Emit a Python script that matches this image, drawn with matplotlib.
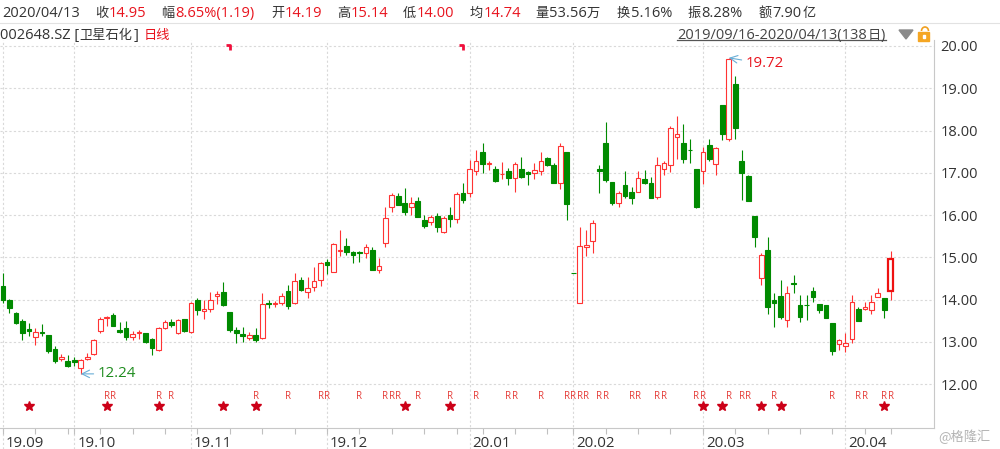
import numpy as np
import pandas as pd
import matplotlib
matplotlib.use('Agg')
import matplotlib.pyplot as plt
from matplotlib.path import Path
from matplotlib.transforms import blended_transform_factory, ScaledTranslation
from matplotlib.patches import Rectangle, Polygon, Arc

# ---------------- data ----------------
opens = [14.32, 14.00, 13.69, 13.49, 13.30, 13.12, 13.24, 13.16, 12.83, 12.60,
         12.54, 12.58, 12.39, 12.60, 12.71, 13.26, 13.56, 13.63, 13.29, 13.32,
         13.11, 13.20, 13.20, 13.06, 12.80, 13.32, 13.46, 13.21, 13.53, 13.24,
         13.98, 13.73, 13.77, 14.09, 14.17, 13.71, 13.28, 13.18, 13.08, 13.16,
         13.08, 13.92, 13.90, 13.91, 14.21, 13.91, 14.46, 14.18, 14.29, 14.46,
         14.89, 14.66, 15.15, 15.27, 15.13, 15.12, 15.09, 15.17, 14.70, 15.34,
         16.20, 16.45, 16.28, 16.18, 16.32, 15.88, 15.84, 15.98, 15.59, 16.00,
         15.90, 16.51, 16.51, 17.05, 17.50, 17.21, 17.09, 16.96, 17.05, 16.87,
         17.08, 17.02, 16.99, 17.05, 17.34, 17.18, 16.75, 17.50, 14.62, 13.91,
         15.24, 15.39, 17.10, 17.70, 16.79, 16.28, 16.71, 16.54, 16.55, 16.85,
         16.75, 16.43, 17.08, 17.18, 17.84, 17.70, 17.55, 17.08, 17.03, 17.66,
         17.21, 18.60, 17.80, 19.10, 17.29, 16.92, 15.98, 14.50, 15.16, 13.98,
         14.08, 13.51, 14.39, 13.87, 13.88, 14.19, 13.89, 13.87, 13.45, 12.95,
         12.90, 13.06, 13.77, 13.78, 13.75, 14.07, 14.03, 14.19]
highs = [14.62, 14.02, 13.71, 13.55, 13.44, 13.32, 13.41, 13.16, 12.90, 12.72,
         12.69, 12.63, 12.60, 12.73, 13.07, 13.58, 13.61, 13.67, 13.47, 13.50,
         13.26, 13.28, 13.20, 13.08, 13.34, 13.52, 13.53, 13.53, 13.55, 13.95,
         14.03, 13.99, 14.18, 14.19, 14.42, 13.71, 13.36, 13.35, 13.22, 13.32,
         14.15, 13.99, 13.97, 14.16, 14.34, 14.62, 14.54, 14.53, 14.76, 14.89,
         14.97, 15.34, 15.64, 15.45, 15.15, 15.15, 15.31, 15.25, 14.98, 16.20,
         16.51, 16.51, 16.63, 16.43, 16.43, 16.00, 16.00, 16.04, 15.98, 16.20,
         16.55, 16.76, 17.30, 17.54, 17.70, 17.27, 17.17, 17.26, 17.11, 17.26,
         17.37, 17.05, 17.24, 17.48, 17.38, 17.22, 17.71, 17.50, 14.62, 15.72,
         15.64, 15.88, 17.18, 18.21, 16.79, 16.58, 17.05, 16.66, 17.05, 17.07,
         16.91, 17.38, 17.29, 18.11, 18.34, 18.15, 17.79, 17.08, 17.62, 17.79,
         17.60, 18.60, 19.72, 19.29, 17.55, 16.95, 15.98, 15.11, 15.49, 14.15,
         14.46, 14.32, 14.57, 14.11, 14.11, 14.29, 13.90, 13.87, 13.45, 13.06,
         13.20, 14.11, 13.82, 13.95, 14.11, 14.27, 14.03, 15.14]
lows = [13.91, 13.68, 13.42, 13.04, 13.14, 12.92, 13.14, 12.74, 12.49, 12.54,
        12.41, 12.43, 12.24, 12.57, 12.69, 13.21, 13.37, 13.37, 13.20, 13.04,
        13.04, 13.06, 12.98, 12.69, 12.79, 13.30, 13.36, 13.19, 13.24, 13.20,
        13.63, 13.53, 13.71, 13.90, 13.85, 13.24, 12.98, 13.00, 13.04, 13.00,
        13.06, 13.81, 13.82, 13.87, 13.77, 13.89, 14.20, 14.03, 14.21, 14.32,
        14.60, 14.65, 15.03, 15.05, 14.86, 14.88, 14.98, 14.70, 14.62, 15.25,
        16.08, 16.24, 16.00, 16.00, 15.96, 15.69, 15.76, 15.60, 15.57, 15.72,
        15.82, 16.28, 16.43, 16.95, 16.99, 17.07, 16.79, 16.85, 16.71, 16.55,
        16.87, 16.71, 16.85, 16.95, 17.16, 16.75, 16.61, 15.88, 14.62, 13.91,
        15.03, 15.11, 16.51, 16.79, 16.24, 16.20, 16.40, 16.26, 16.54, 16.73,
        16.40, 16.37, 16.95, 17.02, 17.32, 17.22, 17.22, 16.16, 16.73, 17.29,
        16.95, 17.78, 17.74, 17.79, 16.36, 16.32, 15.24, 14.34, 13.66, 13.34,
        13.53, 13.34, 14.15, 13.47, 13.51, 13.95, 13.67, 13.56, 12.69, 12.80,
        12.76, 12.98, 13.50, 13.75, 13.66, 14.05, 13.56, 14.00]
closes = [14.00, 13.81, 13.45, 13.21, 13.25, 13.24, 13.20, 12.79, 12.54, 12.64,
          12.43, 12.53, 12.57, 12.65, 13.04, 13.53, 13.59, 13.37, 13.24, 13.12,
          13.18, 13.22, 13.00, 12.85, 13.32, 13.47, 13.40, 13.51, 13.26, 13.91,
          13.75, 13.77, 14.00, 14.12, 13.87, 13.28, 13.21, 13.14, 13.16, 13.04,
          13.89, 13.90, 13.92, 14.08, 13.85, 14.44, 14.22, 14.27, 14.44, 14.86,
          14.82, 15.31, 15.17, 15.13, 15.05, 15.10, 15.24, 14.71, 14.79, 15.92,
          16.47, 16.24, 16.08, 16.28, 15.96, 15.74, 15.95, 15.72, 15.92, 15.90,
          16.50, 16.36, 17.08, 17.29, 17.21, 17.23, 16.81, 16.98, 16.87, 17.21,
          16.91, 16.96, 17.07, 17.29, 17.18, 16.75, 17.63, 16.26, 14.62, 15.27,
          15.29, 15.82, 17.05, 16.83, 16.29, 16.51, 16.45, 16.41, 16.87, 16.76,
          16.40, 17.18, 17.22, 18.05, 17.92, 17.32, 17.53, 16.18, 17.50, 17.32,
          17.58, 17.92, 19.70, 18.05, 16.99, 16.32, 15.47, 15.05, 13.82, 13.91,
          13.58, 14.16, 14.37, 13.58, 13.86, 14.07, 13.74, 13.56, 12.79, 13.03,
          12.98, 13.93, 13.50, 13.83, 13.95, 14.16, 13.76, 14.95]

holidays = ['2019-10-01', '2019-10-02', '2019-10-03', '2019-10-04', '2019-10-07',
            '2020-01-01', '2020-01-24', '2020-01-27', '2020-01-28', '2020-01-29',
            '2020-01-30', '2020-01-31', '2020-04-06']
start_date, end_date = '2019-09-16', '2020-04-13'

r_idx = [16, 17, 24, 26, 39, 44, 49, 50, 55, 59, 60, 61, 64, 69, 73, 78, 79, 83,
         87, 88, 89, 90, 92, 93, 97, 98, 101, 102, 107, 108, 112, 114, 115, 119,
         128, 132, 133, 136, 137]
star_idx = [4, 16, 24, 34, 39, 62, 69, 108, 111, 117, 120, 136]
flag_idx = [35, 71]
y_ticks = [12, 13, 14, 15, 16, 17, 18, 19, 20]

stock_code = '002648.SZ'
stock_name = '卫星石化'
volume_txt = '53.56万'
turnover_txt = '5.16%'
amount_txt = '7.90亿'
avg_price = 14.74

# ---------------- derived ----------------
o = np.array(opens); h = np.array(highs); l = np.array(lows); c = np.array(closes)
n = len(o)
dates = pd.bdate_range(start_date, end_date)
dates = dates[~dates.isin(pd.to_datetime(holidays))]
x = np.arange(n)
prev_c = np.r_[c[0], c[:-1]]
up = (c > o) | ((c == o) & (c >= prev_c))
ym = dates.year * 100 + dates.month
month_idx = [i for i in range(n) if i == 0 or ym[i] != ym[i - 1]]
month_labels = [dates[i].strftime('%y.%m') for i in month_idx]
wk = dates.isocalendar().week.values
week_idx = [i for i in range(n) if i == 0 or wk[i] != wk[i - 1]]

RED = '#ff3333'
GREEN = '#008a00'
TXT = '#333333'
HRED = '#e8141e'
GRID = '#d9d9d9'
NUM = ['Open Sans', 'DejaVu Sans']
CJK = ['Noto Sans CJK SC', 'DejaVu Sans']

W, H = 1000, 449
fig = plt.figure(figsize=(W / 100, H / 100), dpi=100)
ax = fig.add_axes([0, 1 - 428 / H, 934 / W, 388 / H])
ax.set_xlim(-0.463, 143.67)
ax.set_ylim(10.959, 20.142)

# candles
ax.vlines(x[up], l[up], h[up], color=RED, lw=0.8, zorder=2)
ax.vlines(x[~up], l[~up], h[~up], color=GREEN, lw=0.8, zorder=2)
bot = np.minimum(o, c)
hgt = np.maximum(np.abs(c - o), 0.012)
last = np.zeros(n, bool); last[-1] = True
m = up & ~last
ax.bar(x[m], hgt[m], bottom=bot[m], width=0.72, facecolor='white', edgecolor=RED,
       linewidth=0.8, zorder=3)
ax.bar(x[~up], hgt[~up], bottom=bot[~up], width=0.72, facecolor=GREEN, edgecolor=GREEN,
       linewidth=0.8, zorder=3)
ax.bar(x[last], hgt[last], bottom=bot[last], width=0.72, facecolor='white', edgecolor='#ee1111',
       linewidth=1.6, zorder=3)

# axes styling
for s in ['top', 'left']:
    ax.spines[s].set_visible(False)
ax.spines['right'].set_color('#c8c8c8')
ax.spines['bottom'].set_color('#c8c8c8')
ax.spines['right'].set_linewidth(0.8)
ax.spines['bottom'].set_linewidth(0.8)
ax.yaxis.tick_right()
ax.set_yticks(y_ticks)
ax.set_yticklabels([f'{v:.2f}' for v in y_ticks], fontsize=10.5, color=TXT, family=NUM)
ax.tick_params(axis='y', length=0, pad=4.5)
ax.grid(axis='y', color=GRID, linestyle=(0, (2, 2)), lw=0.8)
ax.set_xticks([])
ax.set_xticks(week_idx, minor=True)
ax.tick_params(axis='x', which='minor', length=4, width=0.8, color='#c0c0c0',
               direction='out', labelbottom=False)
ax.set_axisbelow(True)

bt = blended_transform_factory(ax.transData, ax.transAxes)
ax.vlines(month_idx, -0.054, 1.0, transform=bt, colors=GRID, linestyles=(0, (2, 2)),
          lw=0.8, clip_on=False, zorder=0)
off = ScaledTranslation(3 / 100, 0, fig.dpi_scale_trans)
for i, lab in zip(month_idx, month_labels):
    ax.text(i, -0.0477, lab, transform=bt + off, ha='left', va='baseline',
            fontsize=10.8, color=TXT, family=NUM)

# R and star markers
for i in r_idx:
    ax.text(i, 0.0799, 'R', transform=bt, ha='center', va='center', fontsize=7,
            color='#e53935', family=NUM)
ax.plot(star_idx, [0.0567] * len(star_idx), transform=bt, ls='none', marker='*',
        ms=7, color='#cc0018', mec='#cc0018', clip_on=False)

# top flags
flag_path = Path([(-1.8, 1.0), (0.0, 1.0), (0.0, -1.4)], [Path.MOVETO, Path.LINETO, Path.LINETO])
ax.plot(flag_idx, [0.982] * len(flag_idx), transform=bt, ls='none', marker=flag_path,
        ms=6, mfc='none', mec='#f0103c', mew=2, clip_on=False)

# annotations
imin = int(np.argmin(l)); imax = int(np.argmax(h))
ax.annotate(f'{l[imin]:.2f}', xy=(imin, l[imin]), xytext=(17, 0), textcoords='offset pixels',
            ha='left', va='center', fontsize=10.8, color='#1e8c1e', family=NUM,
            arrowprops=dict(arrowstyle='->,head_length=0.5,head_width=0.25', color='#6aaed6',
                            lw=0.8, shrinkA=1, shrinkB=0))
ax.annotate(f'{h[imax]:.2f}', xy=(imax, h[imax]), xytext=(17, -6), textcoords='offset pixels',
            ha='left', va='center', fontsize=10.8, color=HRED, family=NUM,
            arrowprops=dict(arrowstyle='->,head_length=0.5,head_width=0.25', color='#6aaed6',
                            lw=0.8, shrinkA=1, shrinkB=0))

# ---------------- header overlay ----------------
ov = fig.add_axes([0, 0, 1, 1], zorder=5)
ov.set_xlim(0, W); ov.set_ylim(H, 0); ov.axis('off'); ov.patch.set_alpha(0)
fig.canvas.draw()
renderer = fig.canvas.get_renderer()


def segs(x0, y, parts):
    xx = x0
    for s, col, kind in parts:
        if kind == 'n':
            t = ov.text(xx, y, s, color=col, fontsize=10.5, family=NUM, ha='left', va='baseline')
        else:
            t = ov.text(xx, y, s, color=col, fontsize=9.5, family=CJK, ha='left', va='baseline')
        bb = t.get_window_extent(renderer)
        xx += bb.width + 0.5
    return xx


last_c, prev_close = c[-1], c[-2]
chg = last_c - prev_close
y1 = 17
segs(2, y1, [(dates[-1].strftime('%Y/%m/%d'), TXT, 'n')])
segs(95, y1, [('收', TXT, 'c'), (f'{last_c:.2f}', HRED, 'n')])
segs(161, y1, [('幅', TXT, 'c'), (f'{chg / prev_close * 100:.2f}%({chg:.2f})', HRED, 'n')])
segs(271, y1, [('开', TXT, 'c'), (f'{o[-1]:.2f}', HRED, 'n')])
segs(337, y1, [('高', TXT, 'c'), (f'{h[-1]:.2f}', HRED, 'n')])
segs(403, y1, [('低', TXT, 'c'), (f'{l[-1]:.2f}', HRED, 'n')])
segs(470, y1, [('均', TXT, 'c'), (f'{avg_price:.2f}', HRED, 'n')])
segs(535, y1, [('量', TXT, 'c'), (volume_txt[:-1], TXT, 'n'), (volume_txt[-1], TXT, 'c')])
segs(617, y1, [('换', TXT, 'c'), (turnover_txt, TXT, 'n')])
segs(688, y1, [('振', TXT, 'c'), (f'{(h[-1] - l[-1]) / prev_close * 100:.2f}%', TXT, 'n')])
segs(759, y1, [('额', TXT, 'c'), (amount_txt[:-1], TXT, 'n'), (amount_txt[-1], TXT, 'c')])
ov.plot([0, W], [23, 23], color='#e2e2e2', lw=0.8)

y2 = 39.5
xe = segs(0, y2, [(stock_code + ' [', TXT, 'n'), (stock_name, TXT, 'c'), (']', TXT, 'n')])
segs(xe + 5, y2, [('日线', HRED, 'c')])

rng = f"{dates[0].strftime('%Y/%m/%d')}-{dates[-1].strftime('%Y/%m/%d')}("
xe = segs(677, 38.5, [(rng + f'{n}', '#444444', 'n'), ('日', '#444444', 'c'), (')', '#444444', 'n')])
ov.plot([677, xe], [40, 40], color='#555555', lw=0.9)
ov.add_patch(Polygon([[899, 30], [913, 30], [906, 39]], closed=True, color='#8a8a8a'))
ov.add_patch(Arc((925, 31), 7, 8, theta1=180, theta2=360, color='#f0a020', lw=1.2))
ov.add_patch(Rectangle((918, 32), 11, 9, color='#f5a623'))
ov.add_patch(Rectangle((922.5, 35), 2, 3, color='white'))

ov.text(938, 441, '@格隆汇', fontsize=9.5, color='#b4b4b4', family=CJK, ha='left', va='baseline')

fig.savefig('out.png', dpi=100)
